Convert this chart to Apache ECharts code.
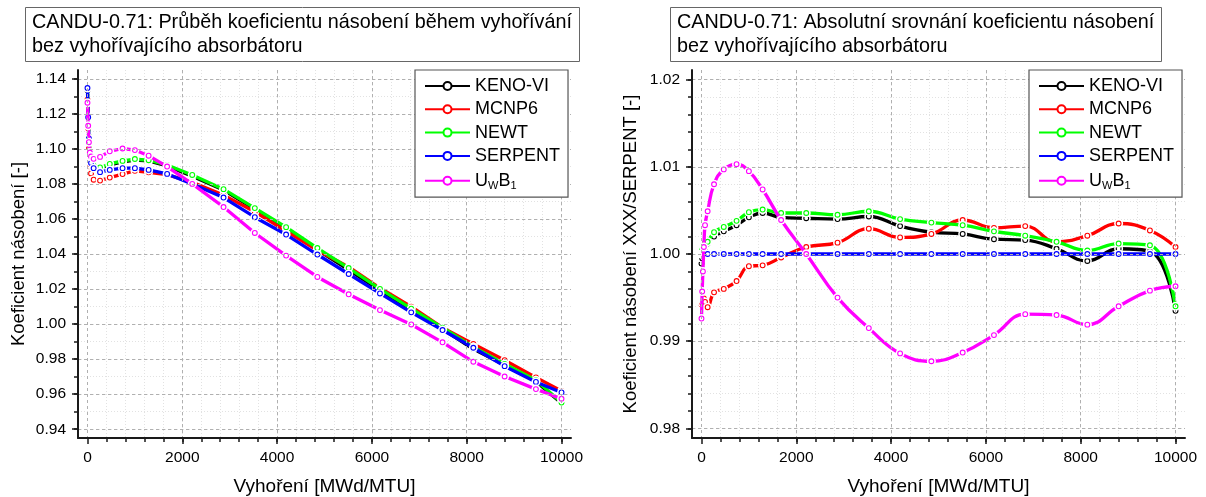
<!DOCTYPE html>
<html><head><meta charset="utf-8">
<script src="https://cdn.jsdelivr.net/npm/echarts@6/dist/echarts.min.js"></script>
<style>html,body{margin:0;padding:0;background:#fff}#c{width:1206px;height:497px}</style>
</head><body><div id="c"></div>
<script>
// ---------- DATA ----------
const burnup = [0, 15, 30, 50, 75, 130, 265, 470, 740, 1000, 1290, 1680, 2210, 2870, 3530, 4190, 4850, 5510, 6170, 6830, 7490, 8140, 8800, 9460, 10000];
const seriesNames = ['KENO-VI', 'MCNP6', 'NEWT', 'SERPENT', 'UWB1'];
const seriesColors = ['#000000', '#ff0000', '#00ff00', '#0000ff', '#ff00ff'];

// left chart: multiplication factor k
const kKeno    = [1.1335, 1.1174, 1.1061, 1.0975, 1.0928, 1.0903, 1.0889, 1.0908, 1.0926, 1.0936, 1.0931, 1.0903, 1.0844, 1.0765, 1.0656, 1.0545, 1.0423, 1.0310, 1.0192, 1.0083, 0.9972, 0.9857, 0.9766, 0.9673, 0.9548];
const kMcnp    = [1.1281, 1.1117, 1.1001, 1.0914, 1.0860, 1.0824, 1.0819, 1.0836, 1.0856, 1.0875, 1.0866, 1.0853, 1.0809, 1.0736, 1.0641, 1.0531, 1.0421, 1.0326, 1.0206, 1.0099, 0.9980, 0.9886, 0.9794, 0.9696, 0.9618];
const kNewt    = [1.1348, 1.1187, 1.1071, 1.0983, 1.0934, 1.0905, 1.0894, 1.0914, 1.0931, 1.0942, 1.0935, 1.0908, 1.0851, 1.0770, 1.0662, 1.0553, 1.0434, 1.0320, 1.0201, 1.0088, 0.9980, 0.9869, 0.9772, 0.9680, 0.9552];
const kSerpent = [1.1347, 1.1180, 1.1060, 1.0970, 1.0920, 1.0890, 1.0867, 1.0880, 1.0890, 1.0890, 1.0880, 1.0857, 1.0800, 1.0722, 1.0610, 1.0511, 1.0397, 1.0286, 1.0175, 1.0067, 0.9966, 0.9865, 0.9760, 0.9670, 0.9610];
const kUwb1    = [1.1263, 1.1132, 1.1038, 1.0979, 1.0956, 1.0943, 1.0954, 1.0986, 1.1002, 1.0993, 1.0961, 1.0899, 1.0800, 1.0668, 1.0520, 1.0391, 1.0269, 1.0170, 1.0080, 0.9998, 0.9896, 0.9785, 0.9701, 0.9629, 0.9574];

// right chart: ratio XXX/SERPENT
const rKeno    = [0.9989, 0.9995, 1.0001, 1.0005, 1.0007, 1.0012, 1.0020, 1.0026, 1.0033, 1.0042, 1.0047, 1.0042, 1.0041, 1.0040, 1.0043, 1.0032, 1.0025, 1.0023, 1.0017, 1.0016, 1.0006, 0.9992, 1.0006, 1.0003, 0.9935];
const rMcnp    = [0.9942, 0.9944, 0.9947, 0.9949, 0.9945, 0.9939, 0.9956, 0.9960, 0.9969, 0.9986, 0.9987, 0.9996, 1.0008, 1.0013, 1.0029, 1.0019, 1.0023, 1.0039, 1.0030, 1.0032, 1.0014, 1.0021, 1.0035, 1.0027, 1.0008];
const rNewt    = [1.0001, 1.0006, 1.0010, 1.0012, 1.0013, 1.0014, 1.0025, 1.0031, 1.0038, 1.0048, 1.0051, 1.0047, 1.0047, 1.0045, 1.0049, 1.0040, 1.0036, 1.0033, 1.0026, 1.0021, 1.0014, 1.0004, 1.0012, 1.0010, 0.9940];
const rSerpent = [1.0000, 1.0000, 1.0000, 1.0000, 1.0000, 1.0000, 1.0000, 1.0000, 1.0000, 1.0000, 1.0000, 1.0000, 1.0000, 1.0000, 1.0000, 1.0000, 1.0000, 1.0000, 1.0000, 1.0000, 1.0000, 1.0000, 1.0000, 1.0000, 1.0000];
const rUwb1    = [0.9926, 0.9957, 0.9980, 1.0008, 1.0033, 1.0049, 1.0080, 1.0097, 1.0103, 1.0095, 1.0074, 1.0039, 1.0000, 0.9950, 0.9915, 0.9886, 0.9877, 0.9887, 0.9907, 0.9931, 0.9930, 0.9919, 0.9940, 0.9958, 0.9963];

const xTickLabels = [0, 2000, 4000, 6000, 8000, 10000];
const yTickLabelsLeft = [0.94, 0.96, 0.98, 1.00, 1.02, 1.04, 1.06, 1.08, 1.10, 1.12, 1.14];
const yTickLabelsRight = [0.98, 0.99, 1.00, 1.01, 1.02];

const titleLeft = 'CANDU-0.71: Průběh koeficientu násobení během vyhořívání\nbez vyhořívajícího absorbátoru';
const titleRight = 'CANDU-0.71: Absolutní srovnání koeficientu násobení\nbez vyhořívajícího absorbátoru';
const xName = 'Vyhoření [MWd/MTU]';
const yNameLeft = 'Koeficient násobení [-]';
const yNameRight = 'Koeficient násobení XXX/SERPENT [-]';

// ---------- CHART ----------
const FONT = '"Liberation Sans", Arial, sans-serif';
const minorX = []; for (let v = 400; v <= 10000; v += 400) minorX.push(v);
const minorYL = []; for (let i = 94; i <= 114; i++) minorYL.push(+(i / 100).toFixed(2));
const minorYR = []; for (let i = 490; i <= 510; i++) minorYR.push(+(i * 0.002).toFixed(3));

function ring(color) {
  const svg = '<svg xmlns="http://www.w3.org/2000/svg" width="20" height="20" viewBox="0 0 20 20">' +
    '<circle cx="10" cy="10" r="9" fill="#ffffff"/>' +
    '<circle cx="10" cy="10" r="4.8" fill="#ffffff" stroke="' + color + '" stroke-width="2.2"/></svg>';
  return 'image://data:image/svg+xml;charset=utf-8,' + encodeURIComponent(svg);
}

const grids = [
  { left: 78, top: 70, width: 493, height: 368, containLabel: false, outerBoundsMode: 'none' },
  { left: 692, top: 70, width: 493, height: 368, containLabel: false, outerBoundsMode: 'none' }
];
const axisLineStyle = { show: true, lineStyle: { color: '#1a1a1a', width: 2 }, onZero: false };

function majorX(gi) {
  return {
    type: 'value', gridIndex: gi, min: -200, max: 10200, position: 'bottom', z: 3,
    name: xName, nameLocation: 'middle', nameGap: 39,
    nameTextStyle: { fontSize: 19, color: '#000', fontFamily: FONT },
    axisLine: axisLineStyle,
    axisTick: { show: true, customValues: xTickLabels, length: 6, lineStyle: { color: '#1a1a1a', width: 1.5 } },
    axisLabel: { customValues: xTickLabels, fontSize: 15.5, color: '#000', fontFamily: FONT, margin: 12,
      formatter: v => String(Math.round(v)) },
    splitLine: { show: true, lineStyle: { color: '#b0b0b0', width: 1, type: [3, 3] } }
  };
}
function minorXAxis(gi) {
  return {
    type: 'value', gridIndex: gi, min: -200, max: 10200, position: 'bottom', z: 1,
    axisLine: { show: false, onZero: false },
    axisTick: { show: true, customValues: minorX, length: 4, lineStyle: { color: '#1a1a1a', width: 1.5 } },
    axisLabel: { show: false },
    splitLine: { show: true, lineStyle: { color: '#e2e2e2', width: 1, type: [1, 2] } }
  };
}
function majorY(gi, min, max, labels, name, gap) {
  return {
    type: 'value', gridIndex: gi, min: min, max: max, position: 'left', z: 3,
    name: name, nameLocation: 'middle', nameGap: gap, nameRotate: 90,
    nameTextStyle: { fontSize: 18.5, color: '#000', fontFamily: FONT },
    axisLine: axisLineStyle,
    axisTick: { show: true, customValues: labels, length: 6, lineStyle: { color: '#1a1a1a', width: 1.5 } },
    axisLabel: { customValues: labels, fontSize: 15.5, color: '#000', fontFamily: FONT, margin: 12,
      formatter: v => (+v).toFixed(2) },
    splitLine: { show: true, lineStyle: { color: '#b0b0b0', width: 1, type: [3, 3] } }
  };
}
function minorY(gi, min, max, vals) {
  return {
    type: 'value', gridIndex: gi, min: min, max: max, position: 'left', z: 1,
    axisLine: { show: false, onZero: false },
    axisTick: { show: true, customValues: vals, length: 4, lineStyle: { color: '#1a1a1a', width: 1.5 } },
    axisLabel: { show: false },
    splitLine: { show: true, lineStyle: { color: '#e2e2e2', width: 1, type: [1, 2] } }
  };
}

const leftK = [kKeno, kMcnp, kNewt, kSerpent, kUwb1];
const rightR = [rKeno, rMcnp, rNewt, rSerpent, rUwb1];
const series = [];
function addSeries(arrs, xi, smooth) {
  arrs.forEach((arr, i) => {
    series.push({
      type: 'line', name: seriesNames[i] + ' ', xAxisIndex: xi, yAxisIndex: xi,
      data: burnup.map((b, j) => [b, arr[j]]),
      smooth: smooth, symbol: ring(seriesColors[i]), symbolSize: 10, showSymbol: true,
      lineStyle: { color: seriesColors[i], width: 3.3 }, itemStyle: { color: seriesColors[i] },
      z: 2 + i * 0.01, silent: true
    });
  });
  // legend-only entries
  seriesNames.forEach((n, i) => {
    series.push({
      type: 'line', name: n, xAxisIndex: xi, yAxisIndex: xi, data: [],
      symbol: 'emptyCircle', lineStyle: { color: seriesColors[i], width: 3 },
      itemStyle: { color: seriesColors[i] }
    });
  });
}
addSeries(leftK, 0, false);
addSeries(rightR, 2, 0.45);

function legend(left) {
  return {
    show: true, orient: 'vertical', left: left, top: 70, padding: [7, 8, 6, 9],
    borderColor: '#555', borderWidth: 1.2, backgroundColor: '#fff',
    itemWidth: 45, itemHeight: 10, itemGap: 5.3, data: seriesNames, selectedMode: false,
    textStyle: { fontSize: 18, color: '#000', fontFamily: FONT, lineHeight: 18,
      rich: { n: { fontSize: 18, fontFamily: FONT, color: '#000', lineHeight: 18 },
              s: { fontSize: 11, fontFamily: FONT, color: '#000', lineHeight: 18, padding: [10, 0, 0, 0] } } },
    formatter: n => n === 'UWB1' ? '{n|U}{s|W}{n|B}{s|1}' : n
  };
}

const option = {
  animation: false,
  backgroundColor: '#fff',
  textStyle: { fontFamily: FONT },
  title: [
    { text: titleLeft, left: 25, top: 7, padding: [3, 8, 3, 7], borderColor: '#666', borderWidth: 1,
      textStyle: { fontSize: 19.8, fontWeight: 'normal', color: '#000', fontFamily: FONT, lineHeight: 24.5 } },
    { text: titleRight, left: 670, top: 7, padding: [3, 8, 3, 7], borderColor: '#666', borderWidth: 1,
      textStyle: { fontSize: 19.8, fontWeight: 'normal', color: '#000', fontFamily: FONT, lineHeight: 24.5 } }
  ],
  legend: [legend(415), legend(1029)],
  grid: grids,
  xAxis: [majorX(0), minorXAxis(0), majorX(1), minorXAxis(1)],
  yAxis: [
    majorY(0, 0.935, 1.145, yTickLabelsLeft, yNameLeft, 50), minorY(0, 0.935, 1.145, minorYL),
    majorY(1, 0.9789, 1.0211, yTickLabelsRight, yNameRight, 52), minorY(1, 0.9789, 1.0211, minorYR)
  ],
  series: series
};
const chart = echarts.init(document.getElementById('c'), null, { renderer: 'canvas' });
chart.setOption(option);
</script></body></html>
